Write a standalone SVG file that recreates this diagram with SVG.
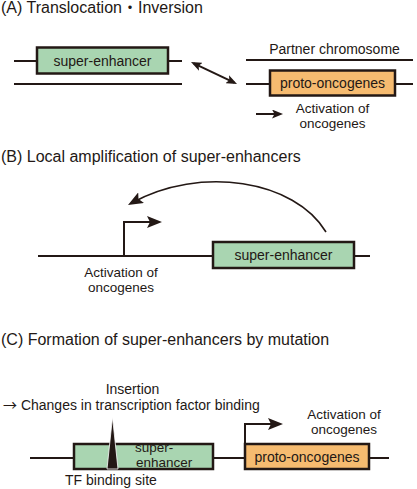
<svg xmlns="http://www.w3.org/2000/svg" width="417" height="489" viewBox="0 0 417 489">
<style>
  text { font-family: "Liberation Sans", "Noto Sans CJK JP", sans-serif; fill: #231815; }
  .title { font-size: 16px; }
  .lbl { font-size: 14px; }
  .lbl2 { font-size: 13.5px; }
  .mid { text-anchor: middle; }
  .ln { stroke: #231815; stroke-width: 2; fill: none; }
  .thin { stroke: #231815; stroke-width: 1.6; fill: none; }
  .se { fill: #a9d5b1; stroke: #231815; stroke-width: 2.5; }
  .po { fill: #f6bb70; stroke: #231815; stroke-width: 2.5; }
</style>
<defs>
  <marker id="big" markerUnits="userSpaceOnUse" viewBox="0 0 15 12" markerWidth="15" markerHeight="12" refX="11" refY="6" orient="auto">
    <path d="M0,0 L15,6 L0,12 L3,6 Z" fill="#231815"/>
  </marker>
  <marker id="small" markerUnits="userSpaceOnUse" viewBox="0 0 11 9" markerWidth="11" markerHeight="9" refX="8" refY="4.5" orient="auto-start-reverse">
    <path d="M0,0 L11,4.5 L0,9 L2.5,4.5 Z" fill="#231815"/>
  </marker>
</defs>

<!-- Titles -->
<text class="title" x="1" y="13">(A) Translocation・Inversion</text>
<text class="title" x="1" y="162">(B) Local amplification of super-enhancers</text>
<text class="title" x="1" y="345">(C) Formation of super-enhancers by mutation</text>

<!-- Connectors / chromosome lines -->
<g id="connectors">
  <!-- A -->
  <line class="ln" x1="14" y1="61" x2="182" y2="61"/>
  <line class="ln" x1="14" y1="84" x2="182" y2="84"/>
  <line class="ln" x1="246" y1="60" x2="413" y2="60"/>
  <line class="ln" x1="246" y1="84" x2="413" y2="84"/>
  <line class="ln" x1="193.7" y1="63.3" x2="234.3" y2="82.7" marker-start="url(#small)" marker-end="url(#small)"/>
  <line class="ln" x1="256" y1="114" x2="280" y2="114" marker-end="url(#small)"/>
  <!-- B -->
  <line class="ln" x1="38" y1="256" x2="370" y2="256"/>
  <path class="ln" d="M124,256 V222 H158" marker-end="url(#big)"/>
  <path class="thin" d="M326,232 C295,180 200,165 131.5,203" marker-end="url(#big)"/>
  <!-- C -->
  <line class="ln" x1="30" y1="458" x2="389" y2="458"/>
  <path class="ln" d="M245,444 V424 H279" marker-end="url(#big)"/>
</g>

<!-- A nodes -->
<g id="a-super-enhancer">
  <rect class="se" x="37" y="47.5" width="131" height="26"/>
  <text class="lbl mid" x="102.5" y="65.5">super-enhancer</text>
</g>
<g id="a-partner">
  <text class="lbl mid" x="334.5" y="54">Partner chromosome</text>
</g>
<g id="a-proto-oncogenes">
  <rect class="po" x="270" y="70.5" width="125" height="25"/>
  <text class="lbl mid" x="332.5" y="88">proto-oncogenes</text>
</g>
<g id="a-activation">
  <text class="lbl2 mid" x="332.5" y="113">Activation of</text>
  <text class="lbl2 mid" x="332.5" y="128">oncogenes</text>
</g>

<!-- B nodes -->
<g id="b-super-enhancer">
  <rect class="se" x="213" y="242" width="141" height="26"/>
  <text class="lbl mid" x="283.5" y="260">super-enhancer</text>
</g>
<g id="b-activation">
  <text class="lbl2 mid" x="121" y="277">Activation of</text>
  <text class="lbl2 mid" x="121" y="292">oncogenes</text>
</g>

<!-- C nodes -->
<g id="c-insertion">
  <text class="lbl mid" x="132.5" y="393.5">Insertion</text>
  <text class="lbl" x="3" y="409.5"><tspan font-family="'Noto Sans CJK JP', sans-serif">→</tspan> Changes in transcription factor binding</text>
</g>
<g id="c-super-enhancer">
  <rect class="se" x="74" y="444" width="139" height="25"/>
  <polygon points="112.5,417 107,469 118,469" fill="#231815" stroke="#ffffff" stroke-width="0.8"/>
  <text class="lbl2" x="135" y="452">super-</text>
  <text class="lbl2" x="136" y="467">enhancer</text>
</g>
<g id="c-tf">
  <text class="lbl" x="65" y="485">TF binding site</text>
</g>
<g id="c-proto-oncogenes">
  <rect class="po" x="245" y="444" width="124" height="25"/>
  <text class="lbl mid" x="307" y="461.5">proto-oncogenes</text>
</g>
<g id="c-activation">
  <text class="lbl2 mid" x="344" y="418.5">Activation of</text>
  <text class="lbl2 mid" x="344" y="433.5">oncogenes</text>
</g>
</svg>
